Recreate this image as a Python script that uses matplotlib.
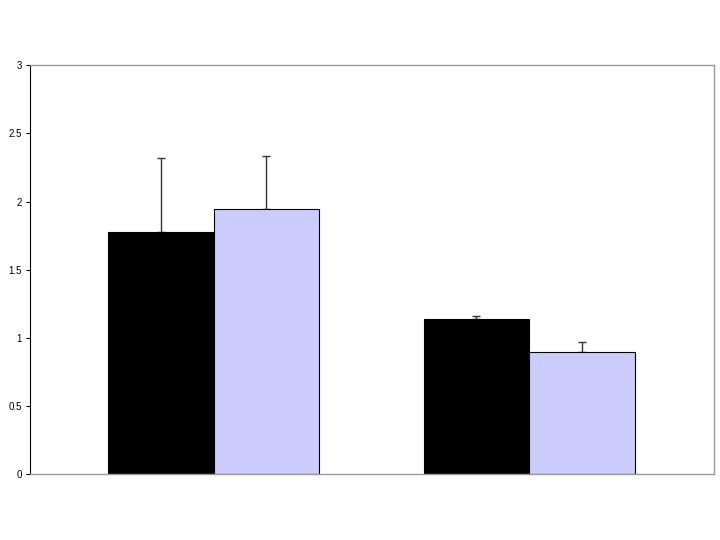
import matplotlib
matplotlib.use("Agg")
import matplotlib.pyplot as plt

plt.rcParams['font.family'] = ['Liberation Sans', 'DejaVu Sans']

# data
groups = [0, 1]
black_vals = [1.78, 1.14]
black_err = [0.54, 0.022]
lav_vals = [1.945, 0.897]
lav_err = [0.39, 0.074]

w = 0.334

fig = plt.figure(figsize=(7.2, 5.4), dpi=100)
ax = fig.add_axes([0.0417, 0.1213, 0.95, 0.7583])

ax.bar([g - w/2 for g in groups], black_vals, w, color='black', edgecolor='black',
       linewidth=0.8, zorder=2)
ax.bar([g + w/2 for g in groups], lav_vals, w, color='#ccccff', edgecolor='black',
       linewidth=0.8, zorder=2)
# upper-only error bars, drawn under the bars so the lower cap is hidden
ax.errorbar([g - w/2 for g in groups], black_vals, yerr=[[0, 0], black_err], fmt='none',
            ecolor='#333333', elinewidth=1, capsize=3, capthick=1, zorder=1)
ax.errorbar([g + w/2 for g in groups], lav_vals, yerr=[[0, 0], lav_err], fmt='none',
            ecolor='#333333', elinewidth=1, capsize=3, capthick=1, zorder=1)

ax.set_xlim(-0.5816, 1.586)
ax.set_ylim(0, 3)
ax.set_yticks([0, 0.5, 1, 1.5, 2, 2.5, 3])
ax.set_yticklabels(['0', '0.5', '1', '1.5', '2', '2.5', '3'])
ax.set_xticks([])
ax.tick_params(axis='y', labelsize=7, length=3, width=0.8, direction='out', pad=3)

for s in ['top', 'right', 'bottom']:
    ax.spines[s].set_color('#999999')
    ax.spines[s].set_linewidth(1)
ax.spines['left'].set_color('black')
ax.spines['left'].set_linewidth(0.8)

fig.savefig("out.png", dpi=100)
